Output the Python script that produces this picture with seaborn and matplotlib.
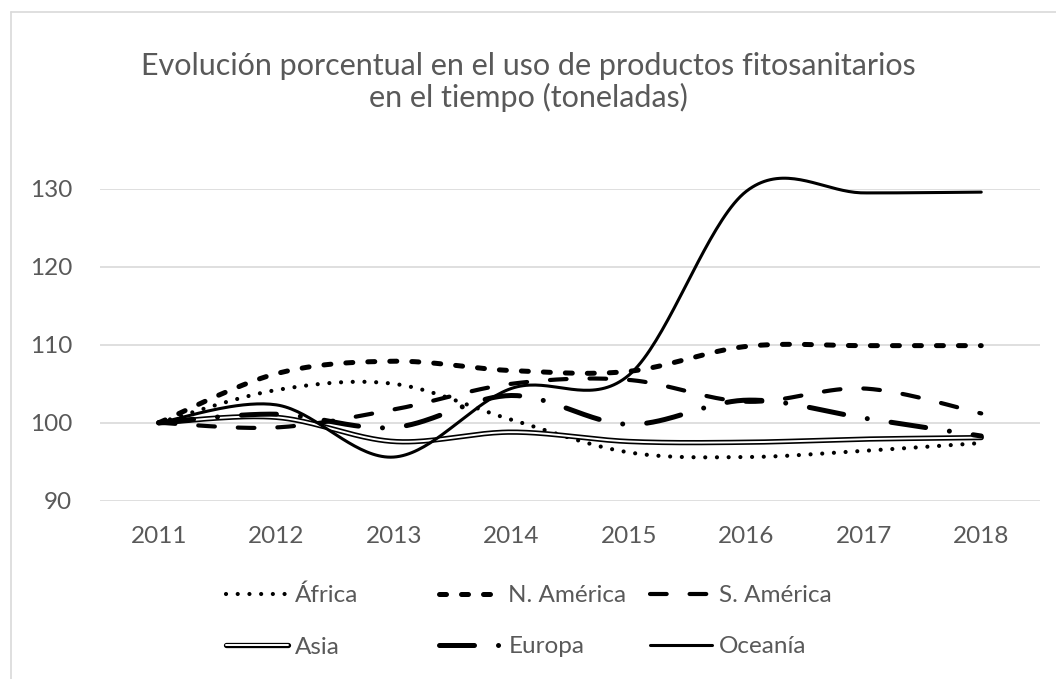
import numpy as np
import matplotlib
matplotlib.use("Agg")
import matplotlib.pyplot as plt
import matplotlib.patheffects as pe
from matplotlib.lines import Line2D
import seaborn as sns

# values (index 2011 = 100)
years = [2011, 2012, 2013, 2014, 2015, 2016, 2017, 2018]
africa = [100, 104.2, 105.0, 100.4, 96.2, 95.6, 96.4, 97.4]
n_america = [100, 106.3, 107.9, 106.7, 106.6, 109.8, 109.9, 109.9]
s_america = [100, 99.4, 101.7, 105.0, 105.5, 102.7, 104.4, 101.2]
asia = [100, 100.7, 97.6, 98.8, 97.6, 97.5, 97.9, 98.1]
europa = [100, 101.1, 99.4, 103.5, 99.8, 102.9, 100.6, 98.3]
oceania = [100, 102.3, 95.6, 104.4, 106.1, 129.7, 129.5, 129.6]

series_names = ["África", "N. América", "S. América", "Asia", "Europa", "Oceanía"]
series_values = [africa, n_america, s_america, asia, europa, oceania]

title = "Evolución porcentual en el uso de productos fitosanitarios\nen el tiempo (toneladas)"
text_color = "#595959"
grid_color = "#d9d9d9"

# line looks (dashes in linewidth units)
styles = {
    "África": dict(lw=3.0, dashes=(0.01, 2.8)),
    "N. América": dict(lw=3.6, dashes=(1.4, 3.0)),
    "S. América": dict(lw=3.0, dashes=(4.0, 5.5)),
    "Asia": dict(lw=1.4, dashes=None, double=True),
    "Europa": dict(lw=3.6, dashes=(7.0, 4.8, 0.01, 4.8)),
    "Oceanía": dict(lw=2.2, dashes=None),
}


def smooth(xv, yv, steps=40):
    # Excel style "smoothed line": cubic Bezier segments through each point
    x = np.asarray(xv, float)
    y = np.asarray(yv, float)
    xp = np.concatenate([[x[0]], x, [x[-1]]])
    yp = np.concatenate([[y[0]], y, [y[-1]]])
    t = np.linspace(0, 1, steps)[:, None]
    out = []
    for i in range(len(x) - 1):
        p0 = np.array([xp[i + 1], yp[i + 1]])
        p3 = np.array([xp[i + 2], yp[i + 2]])
        c1 = p0 + (p3 - np.array([xp[i], yp[i]])) / 6
        c2 = p3 - (np.array([xp[i + 3], yp[i + 3]]) - p0) / 6
        seg = ((1 - t) ** 3) * p0 + 3 * ((1 - t) ** 2) * t * c1 + 3 * (1 - t) * t ** 2 * c2 + t ** 3 * p3
        out.append(seg if i == 0 else seg[1:])
    pts = np.vstack(out)
    return pts[:, 0], pts[:, 1]


sns.set_theme(style="white")
plt.rcParams["font.family"] = ["Lato", "DejaVu Sans"]

fig = plt.figure(figsize=(10.56, 6.79), dpi=100)
ax = fig.add_axes([100 / 1056, 1 - 500.7 / 679, 940 / 1056, (500.7 - 189) / 679])

handles = []
for name, vals in zip(series_names, series_values):
    st = styles[name]
    sx, sy = smooth(years, vals)
    color = "white" if st.get("double") else "black"
    sns.lineplot(x=sx, y=sy, ax=ax, color=color, linewidth=st["lw"],
                 sort=False, estimator=None, label=name)
    line = ax.lines[-1]
    line.set_clip_on(False)
    if st["dashes"] is not None:
        line.set_dashes(st["dashes"])
        line.set_dash_capstyle("round")
    else:
        line.set_solid_capstyle("round")
    if st.get("double"):
        line.set_path_effects([pe.Stroke(linewidth=3.8, foreground="black"), pe.Normal()])
    handles.append(line)

ax.get_legend().remove()

ax.set_xlim(2010.5, 2018.5)
ax.set_ylim(90, 130)
ax.set_xticks(years)
ax.set_xticklabels([str(y) for y in years])
ax.set_yticks([90, 100, 110, 120, 130])
ax.set_xlabel("")
ax.set_ylabel("")
ax.tick_params(axis="both", length=0, labelsize=17.5, colors=text_color)
ax.tick_params(axis="y", pad=20)
ax.tick_params(axis="x", pad=18)
ax.grid(axis="y", color=grid_color, linewidth=1.2)
ax.grid(axis="x", visible=False)
ax.set_axisbelow(True)
sns.despine(ax=ax, left=True, bottom=True)

fig.text(0.5, 1 - 82 / 679, title, ha="center", va="center",
         fontsize=22, color=text_color, linespacing=1.13)

# legend laid out in three columns of two rows
col_x = [226, 439, 650]
for c in range(3):
    hs = [handles[c], handles[c + 3]]
    leg = fig.legend(hs, [h.get_label() for h in hs], loc="upper left",
                     bbox_to_anchor=(col_x[c] / 1056, 1 - 585 / 679),
                     frameon=False, fontsize=17.5, handlelength=2.55,
                     handletextpad=0.3, labelspacing=1.25, borderpad=0,
                     borderaxespad=0)
    for txt in leg.get_texts():
        txt.set_color(text_color)

# chart area border (left and top edges visible)
fig.add_artist(Line2D([11 / 1056, 11 / 1056], [0, 1 - 12 / 679], color=grid_color, lw=1.2))
fig.add_artist(Line2D([11 / 1056, 1], [1 - 12 / 679, 1 - 12 / 679], color=grid_color, lw=1.2))

fig.savefig("out.png", dpi=100)
